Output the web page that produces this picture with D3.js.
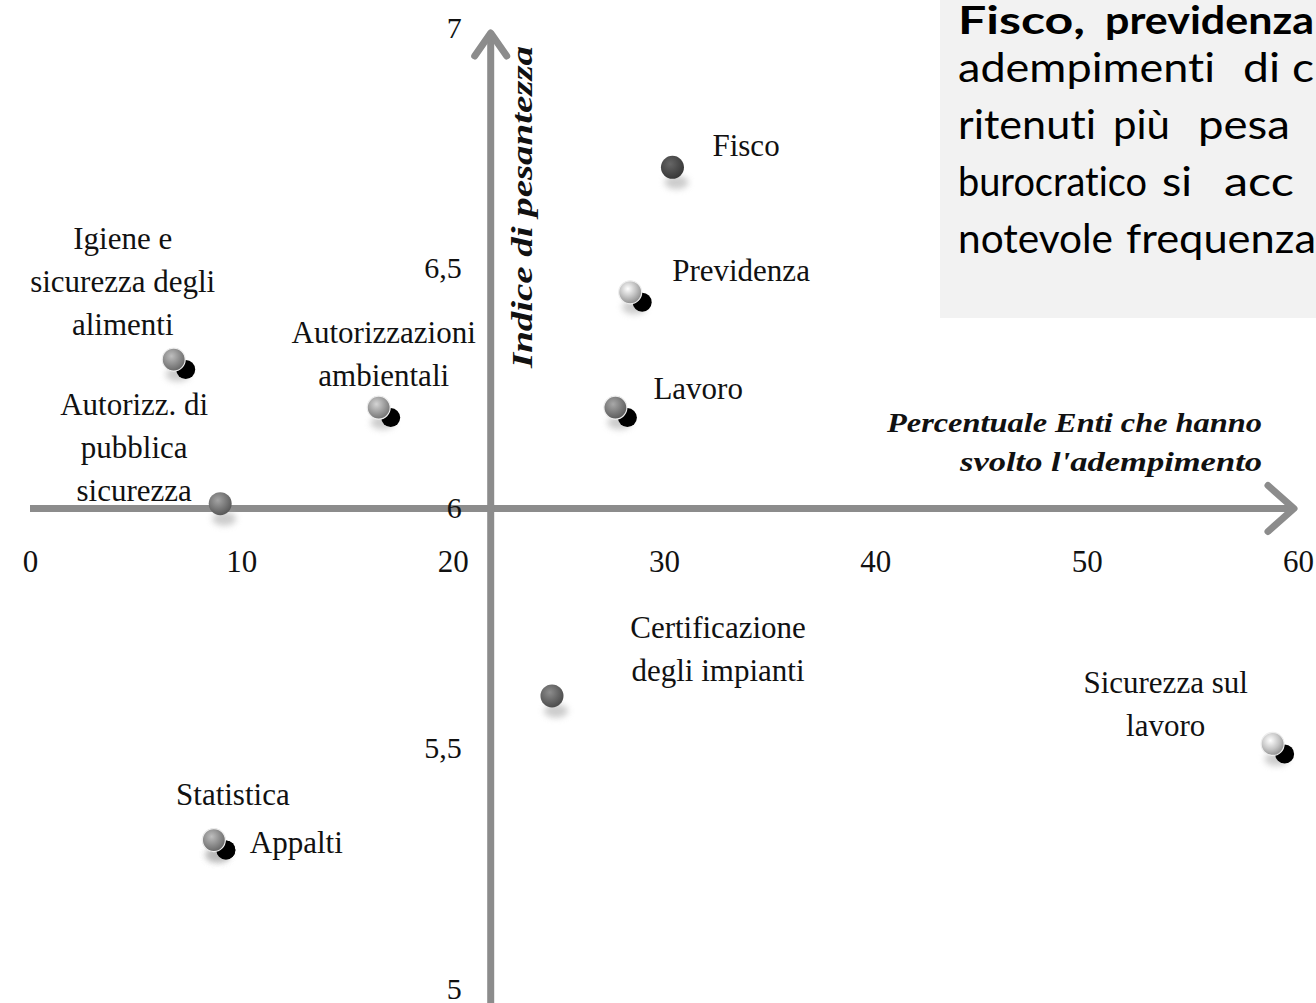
<!DOCTYPE html>
<html><head><meta charset="utf-8">
<script src="https://cdn.jsdelivr.net/npm/d3@7"></script>
<style>html,body{margin:0;padding:0;background:#fff;overflow:hidden}</style>
</head><body>
<svg id="c" width="1316" height="1003"></svg>
<script>
const names = ["Fisco","Previdenza","Lavoro","Igiene e|sicurezza degli|alimenti","Autorizzazioni|ambientali","Autorizz. di|pubblica|sicurezza","Certificazione|degli impianti","Sicurezza sul|lavoro","Statistica","Appalti"];
const pctEnti = [30.4, 28.4, 27.7, 6.8, 16.5, 9.0, 24.7, 58.8, 8.7, 8.7];
const pesantezza = [6.71, 6.45, 6.21, 6.31, 6.21, 6.01, 5.61, 5.51, 5.31, 5.31];
const xTicks = [0,10,20,30,40,50,60];
const yTicks = [5,5.5,6,6.5,7];
const xTitle = ["Percentuale Enti che hanno","svolto l'adempimento"];
const yTitle = "Indice di pesantezza";
const boxLines = [
  {bold:true, words:["Fisco,","previdenza"]},
  {bold:false, words:["adempimenti","di","c"]},
  {bold:false, words:["ritenuti","più","pesa"]},
  {bold:false, words:["burocratico","si","acc"]},
  {bold:false, words:["notevole","frequenza"]}
];
// styles / layout (not data)
const ballColor = ["#4a4a4a","#bdbdbd","#7a7a7a","#8a8a8a","#9a9a9a","#777","#666","#c4c4c4","#8a8a8a","#8a8a8a"];
const withShadow = [false,true,true,true,true,false,false,true,true,true];
const labelPos = [
  ["start",40,-18],["start",42,-18],["start",38,-16],
  ["middle",-51,-118],["middle",5,-72],["middle",-86,-96],
  ["middle",166,-65],["middle",-107,-58],["middle",19,-42],["start",36,6]
];
const wordX = [[958,1105],[958,1243,1292],[958,1113,1198],[958,1162,1224],[958,1126]];
const wordW = [[127,209],[257,37,22],[138,57,92],[189,30,70],[155,190]];

const svg = d3.select("#c");
const x = d3.scaleLinear().domain([0,60]).range([30,1298]);
const y = d3.scaleLinear().domain([5,7]).range([989,28]);
const crossX = 21.8, crossY = 6;
const serif = "'Liberation Serif','DejaVu Serif',serif";

const defs = svg.append("defs");
const blur = defs.append("filter").attr("id","blur").attr("x","-50%").attr("y","-50%").attr("width","200%").attr("height","200%");
blur.append("feGaussianBlur").attr("stdDeviation",3);
const blur2 = defs.append("filter").attr("id","blur2").attr("x","-10%").attr("y","-50%").attr("width","120%").attr("height","300%");
blur2.append("feGaussianBlur").attr("stdDeviation",3);
ballColor.forEach((c,i)=>{
  const g = defs.append("radialGradient").attr("id","g"+i).attr("cx","40%").attr("cy","35%").attr("r","65%");
  g.append("stop").attr("offset","0%").attr("stop-color",d3.color(c).brighter(0.9));
  g.append("stop").attr("offset","60%").attr("stop-color",c);
  g.append("stop").attr("offset","100%").attr("stop-color",d3.color(c).darker(0.8));
});

// text box
svg.append("rect").attr("x",940).attr("y",0).attr("width",380).attr("height",318).attr("fill","#f2f2f2");
boxLines.forEach((ln,li)=>{
  ln.words.forEach((w,wi)=>{
    svg.append("text").attr("x",wordX[li][wi]).attr("y",(li?25:34)+li*57)
      .attr("font-family","Lato,'Open Sans',sans-serif").attr("font-size",li?41:39)
      .style("font-variant-ligatures","none")
      .attr("textLength",wordW[li][wi]).attr("lengthAdjust","spacingAndGlyphs")
      .attr("font-weight",ln.bold?"bold":"normal").attr("fill","#000").text(w);
  });
});

// axes shadows
const axG = svg.append("g");
axG.append("line").attr("x1",x(0)).attr("x2",1290).attr("y1",y(crossY)+6).attr("y2",y(crossY)+6)
  .attr("stroke","#bbb").attr("stroke-width",6).attr("filter","url(#blur2)");
axG.append("line").attr("x1",x(crossX)+6).attr("x2",x(crossX)+6).attr("y1",1003).attr("y2",40)
  .attr("stroke","#ccc").attr("stroke-width",6).attr("filter","url(#blur)");
axG.append("line").attr("x1",x(0)).attr("x2",1292).attr("y1",y(crossY)).attr("y2",y(crossY))
  .attr("stroke","#8c8c8c").attr("stroke-width",7);
axG.append("path").attr("d",`M${1268},${y(crossY)-23} L${1294},${y(crossY)} L${1268},${y(crossY)+23}`)
  .attr("fill","none").attr("stroke","#8c8c8c").attr("stroke-width",7).attr("stroke-linecap","round").attr("stroke-linejoin","round");
axG.append("line").attr("x1",x(crossX)).attr("x2",x(crossX)).attr("y1",1003).attr("y2",34)
  .attr("stroke","#8c8c8c").attr("stroke-width",7);
axG.append("path").attr("d",`M${x(crossX)-16},${56} L${x(crossX)},${33} L${x(crossX)+16},${56}`)
  .attr("fill","none").attr("stroke","#8c8c8c").attr("stroke-width",7).attr("stroke-linecap","round").attr("stroke-linejoin","round");

// tick labels via d3 axes
const xAxis = d3.axisBottom(x).tickValues(xTicks).tickSize(0).tickPadding(0).tickFormat(d3.format("d"));
const gx = svg.append("g").attr("transform",`translate(0,${y(crossY)+70})`).call(xAxis);
gx.select(".domain").remove();
gx.selectAll("text").attr("font-family",serif).attr("font-size",31).attr("fill","#111").attr("dy","-0.2em").attr("y",0);
const yAxis = d3.axisLeft(y).tickValues(yTicks).tickSize(0).tickPadding(0).tickFormat(d=>String(d).replace(".",","));
const gy = svg.append("g").attr("transform",`translate(${x(crossX)-29},0)`).call(yAxis);
gy.select(".domain").remove();
gy.selectAll("text").attr("font-family",serif).attr("font-size",30).attr("fill","#111").attr("dy","0.3em").attr("x",0);

// axis titles
svg.append("text").attr("transform",`translate(${x(crossX)+41},${207}) rotate(-90)`)
  .attr("text-anchor","middle").attr("font-family",serif).attr("font-size",29)
  .attr("textLength",322).attr("lengthAdjust","spacingAndGlyphs")
  .attr("font-weight","bold").attr("font-style","italic").attr("fill","#111").text(yTitle);
const xtW=[375,302];
xTitle.forEach((t,i)=>svg.append("text").attr("x",1262-xtW[i]).attr("y",432+i*39)
  .attr("textLength",xtW[i]).attr("lengthAdjust","spacingAndGlyphs")
  .attr("font-family",serif).attr("font-size",27).attr("font-weight","bold").attr("font-style","italic").attr("fill","#111").text(t));

// points
const pts = names.map((n,i)=>({n, x:pctEnti[i], y:pesantezza[i], i}));
const pg = svg.append("g");
pts.forEach(p=>{
  const cx=x(p.x), cy=y(p.y);
  pg.append("ellipse").attr("cx",cx+4).attr("cy",cy+15).attr("rx",12).attr("ry",7).attr("fill","#aaa").attr("opacity",0.6).attr("filter","url(#blur)");
  if(withShadow[p.i]) pg.append("circle").attr("cx",cx+12).attr("cy",cy+10).attr("r",9.5).attr("fill","#000");
  pg.append("circle").attr("cx",cx).attr("cy",cy).attr("r",11.5).attr("fill",`url(#g${p.i})`)
    .attr("stroke",withShadow[p.i]?"#eee":"none").attr("stroke-width",1.2);
});

// labels
pts.forEach(p=>{
  const [anc,dx,dy] = labelPos[p.i];
  const t = svg.append("text").attr("x",x(p.x)+dx).attr("y",y(p.y)+dy)
    .attr("text-anchor",anc).attr("font-family",serif).attr("font-size",31).attr("fill","#111")
    .attr("dominant-baseline","middle");
  p.n.split("|").forEach((ln,k)=>t.append("tspan").attr("x",x(p.x)+dx).attr("dy",k?43:0).text(ln));
});
</script>
</body></html>
